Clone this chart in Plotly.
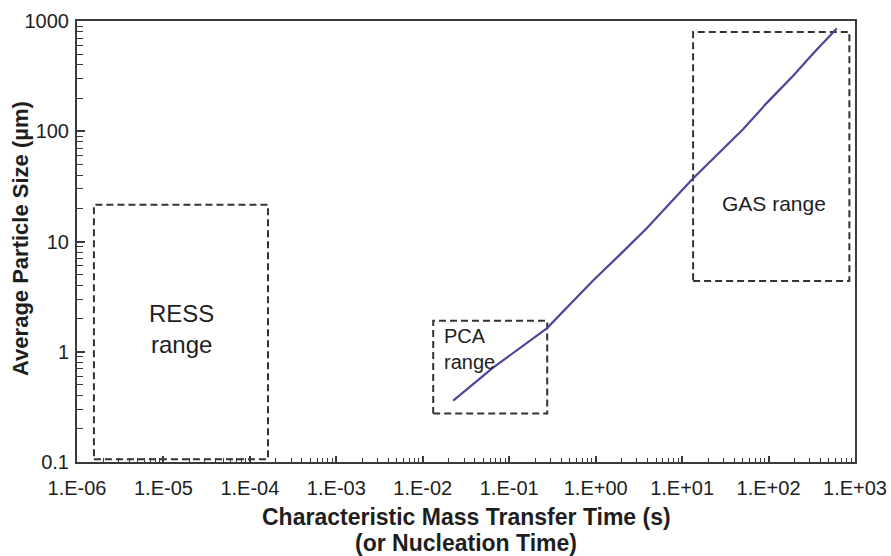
import math
import plotly.graph_objects as go

# ---- data ----
line_x = [0.0225, 0.0655, 0.272, 0.94, 1.91, 3.9, 13.0, 51, 95, 194, 330, 615]
line_y = [0.36, 0.72, 1.63, 4.46, 7.6, 13.2, 36.5, 105, 180, 320, 509, 855]

ress_x = [1.57e-6, 1.62e-4]
ress_y = [0.106, 21.5]
pca_x = [0.0132, 0.275]
pca_y = [0.275, 1.91]
gas_x = [13.4, 861]
gas_y = [4.38, 796]

x_tickvals = [1e-6, 1e-5, 1e-4, 1e-3, 1e-2, 1e-1, 1e0, 1e1, 1e2, 1e3]
x_ticktext = ["1.E-06", "1.E-05", "1.E-04", "1.E-03", "1.E-02", "1.E-01",
              "1.E+00", "1.E+01", "1.E+02", "1.E+03"]
y_tickvals = [0.1, 1, 10, 100, 1000]
y_ticktext = ["0.1", "1", "10", "100", "1000"]

x_minor = [k * 10.0 ** n for n in range(-6, 3) for k in range(2, 10)]
y_minor = [k * 10.0 ** n for n in range(-1, 3) for k in range(2, 10)]

FONT = "Liberation Sans, Arial, Helvetica, sans-serif"
AX = "#3a3a3a"
TXT = "#1e1e1e"
BOX = "#333333"

fig = go.Figure()


def box(xs, ys):
    fig.add_trace(go.Scatter(
        x=[xs[0], xs[1], xs[1], xs[0], xs[0]],
        y=[ys[0], ys[0], ys[1], ys[1], ys[0]],
        mode="lines",
        line=dict(color=BOX, width=2, dash="7px,4px"),
        hoverinfo="skip", showlegend=False))


box(ress_x, ress_y)
box(pca_x, pca_y)
box(gas_x, gas_y)

fig.add_trace(go.Scatter(
    x=line_x, y=line_y, mode="lines",
    line=dict(color="#4a469c", width=2.2),
    showlegend=False))

axis_common = dict(
    type="log",
    automargin=False,
    showgrid=False, zeroline=False,
    showline=True, linecolor=AX, linewidth=2, mirror=True,
    ticks="inside", tickcolor=AX, tickwidth=1.5,
    tickmode="array",
    tickfont=dict(family=FONT, size=20, color=TXT),
)

fig.update_xaxes(
    **axis_common,
    range=[-6, 3],
    tickvals=x_tickvals, ticktext=x_ticktext,
    ticklen=6,
    ticklabelstandoff=7,
    minor=dict(ticks="inside", ticklen=4, tickcolor=AX, tickwidth=1.2,
               tickmode="array", tickvals=x_minor, showgrid=False),
)
fig.update_yaxes(
    **axis_common,
    range=[-1, 3],
    tickvals=y_tickvals, ticktext=y_ticktext,
    ticklen=8,
    ticklabelstandoff=2,
    minor=dict(ticks="inside", ticklen=6, tickcolor=AX, tickwidth=1.2,
               tickmode="array", tickvals=y_minor, showgrid=False),
)

annotations = [
    dict(text="<b>Characteristic Mass Transfer Time (s)</b>", xref="paper", yref="paper",
         x=0.5, y=-0.1247, xanchor="center", yanchor="middle", showarrow=False,
         font=dict(family=FONT, size=23, color=TXT)),
    dict(text="<b>(or Nucleation Time)</b>", xref="paper", yref="paper",
         x=0.5, y=-0.1848, xanchor="center", yanchor="middle", showarrow=False,
         font=dict(family=FONT, size=23, color=TXT)),
    dict(text="<b>Average Particle Size (µm)</b>", xref="paper", yref="paper",
         x=-0.072, y=0.508, xanchor="center", yanchor="middle", textangle=-90,
         showarrow=False, font=dict(family=FONT, size=22, color=TXT)),
    dict(text="RESS<br>range", xref="x", yref="y",
         x=math.log10(1.6e-5), y=math.log10(1.62), xanchor="center", yanchor="middle",
         align="center", showarrow=False, font=dict(family=FONT, size=24, color=TXT)),
    dict(text="PCA<br>range", xref="x", yref="y",
         x=math.log10(0.01655), y=math.log10(1.06), xanchor="left", yanchor="middle",
         align="left", showarrow=False, font=dict(family=FONT, size=20, color=TXT)),
    dict(text="GAS range", xref="x", yref="y",
         x=math.log10(115.6), y=math.log10(21.9), xanchor="center", yanchor="middle",
         showarrow=False, font=dict(family=FONT, size=21, color=TXT)),
]

fig.update_layout(
    width=891, height=556,
    margin=dict(l=77, r=36, t=21, b=94),
    paper_bgcolor="white", plot_bgcolor="white",
    showlegend=False,
    annotations=annotations,
)

fig.write_html("out.html")
